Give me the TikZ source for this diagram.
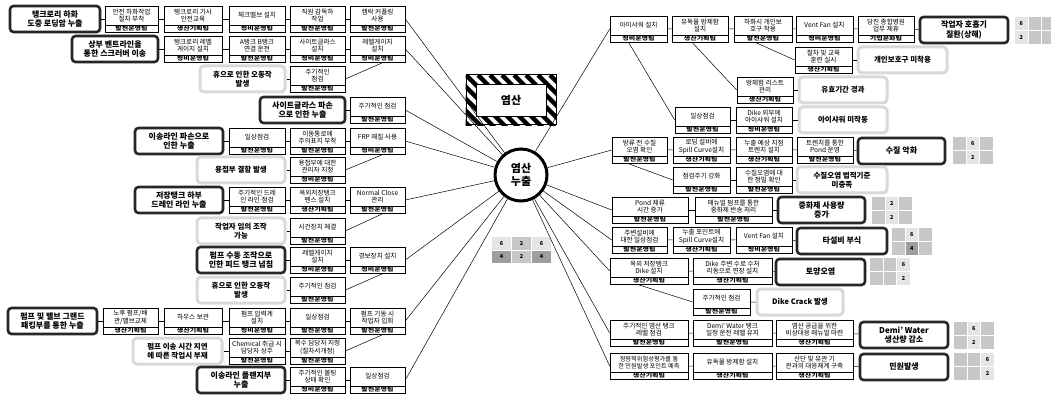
\documentclass[tikz,border=0pt]{standalone}
\usepackage{fontspec}
\setmainfont{Noto Sans CJK KR}
\tikzset{
 act/.style={draw, line width=0.6pt, minimum height=26pt, inner sep=0pt, fill=white},
 actt/.style={font=\fontsize{6.6}{7.6}\selectfont, align=center, inner sep=0pt},
 team/.style={font=\fontsize{5.4}{5.5}\selectfont\bfseries, inner sep=0pt},
 thk/.style={draw=black!85, line width=2.6pt, rounded corners=3.5pt, fill=white, minimum height=26pt, align=center, font=\fontsize{8}{9.8}\selectfont\bfseries, inner sep=0pt},
 gry/.style={draw=black!15, line width=3pt, rounded corners=4pt, fill=white, minimum height=26pt, align=center, font=\fontsize{7.5}{9.5}\selectfont\bfseries, inner sep=0pt},
 conn/.style={line width=0.5pt},
 gcell/.style={fill=black!22},
 lcell/.style={fill=black!10},
 dcell/.style={fill=black!38},
 num/.style={font=\fontsize{5.5}{6}\selectfont\bfseries, inner sep=0pt},
}
\newcommand\actbox[6]{%
 \node[act, minimum width=\dimexpr #3pt-#2pt\relax] (#1) at ({(#2+#3)/2},#4) {};
 \node[actt] at ([yshift=3.5pt]#1.center) {#5};
 \draw[line width=0.5pt] ([yshift=7pt]#1.south west) -- ([yshift=7pt]#1.south east);
 \node[team] at ([yshift=3.4pt]#1.south) {\scalebox{1.3}[0.95]{#6}};
}
\newcommand\thkbox[5]{\node[thk, minimum width=\dimexpr #3pt-#2pt\relax] (#1) at ({(#2+#3)/2},#4) {#5};}
\newcommand\grybox[5]{\node[gry, minimum width=\dimexpr #3pt-#2pt\relax] (#1) at ({(#2+#3)/2},#4) {#5};}
% riskgrid{x}{y}{col}{top}{bot}{botstyle}
\newcommand\riskgrid[6]{%
 \foreach \c in {0,1,2}{\foreach \r in {0,1}{\fill[gcell] ({#1+\c*13.6},{#2+\r*14}) rectangle ++(12.6,13);}}
 \fill[lcell] ({#1+#3*13.6},#2) rectangle ++(12.6,13);
 \fill[#6] ({#1+#3*13.6},{#2+14}) rectangle ++(12.6,13);
 \node[num] at ({#1+#3*13.6+6.3},{#2+6.5}) {#4};
 \node[num] at ({#1+#3*13.6+6.3},{#2+20.5}) {#5};
}
\begin{document}
\begin{tikzpicture}[x=1pt,y=-1pt]
\useasboundingbox (0,0) rectangle (1051,395);
% ---------- center ----------
\node[draw, line width=1pt, minimum width=90pt, minimum height=50pt, inner sep=0pt] (hazo) at (511,100) {};
\begin{scope}
 \clip (hazo.south west) rectangle (hazo.north east);
 \foreach \i in {-60,-48,...,100} \draw[line width=4.5pt] ({466+\i},75) -- ++(55,55);
\end{scope}
\node[draw, line width=0.8pt, fill=white, minimum width=70pt, minimum height=32pt, font=\fontsize{11}{13}\selectfont\bfseries] (haz) at (511,100) {염산};
\node[circle, draw, line width=3pt, fill=white, minimum size=52pt, inner sep=0pt, align=center, font=\fontsize{11}{13.5}\selectfont\bfseries] (C) at (521,175) {염산\\누출};
\foreach \c/\t/\b/\ts/\bs in {0/6/4/lcell/dcell,1/2/2/gcell/gcell,2/6/4/lcell/dcell}{
 \fill[\ts] ({492+\c*20},237) rectangle ++(19,12.5);
 \fill[\bs] ({492+\c*20},250.5) rectangle ++(19,12.5);
 \node[num] at ({501.5+\c*20},243.2) {\t};
 \node[num] at ({501.5+\c*20},256.7) {\b};
}
% ---------- left ----------
\thkbox{T1}{10}{100}{19}{탱크로리 하화\\도중 로딩암 누출}
\actbox{R1a}{105}{158}{19}{안전 하화작업\\절차 부착}{발전운영팀}
\actbox{R1b}{164}{222}{19}{탱크로리 기사\\안전교육}{생산기획팀}
\actbox{R1c}{229}{285}{19}{체크밸브 설치}{정비운영팀}
\actbox{R1d}{290}{345}{19}{직원 감독하\\작업}{발전운영팀}
\actbox{R1e}{350}{405}{19}{캠락 커플링\\사용}{발전운영팀}
\thkbox{T2}{72}{158}{49}{상부 벤트라인을\\통한 스크러버 이송}
\actbox{R2a}{164}{222}{49}{탱크로리 레벨\\게이지 설치}{정비운영팀}
\actbox{R2b}{229}{285}{49}{A탱크 B탱크\\연결 운전}{발전운영팀}
\actbox{R2c}{290}{345}{49}{사이트글라스\\설치}{정비운영팀}
\actbox{R2d}{350}{405}{49}{레벨게이지\\설치}{정비운영팀}
\grybox{G3}{200}{285}{79}{휴으로 인한 오동작\\발생}
\actbox{R3a}{290}{345}{79}{주기적인\\점검}{발전운영팀}
\thkbox{T4}{260}{345}{110}{사이트글라스 파손\\으로 인한 누출}
\actbox{R4a}{350}{405}{110}{주기적인 점검}{발전운영팀}
\thkbox{T5}{135}{223}{141}{이송라인 파손으로\\인한 누출}
\actbox{R5a}{229}{285}{141}{일상점검}{발전운영팀}
\actbox{R5b}{290}{345}{141}{이동통로에\\주의표지 부착}{발전운영팀}
\actbox{R5c}{350}{405}{141}{FRP 재질 사용}{정비운영팀}
\grybox{G6}{197}{285}{170}{용접부 결함 발생}
\actbox{R6a}{290}{345}{170}{용접부에 대한\\관리자 지정}{정비운영팀}
\thkbox{T7}{135}{223}{200}{저장탱크 하부\\드레인 라인 누출}
\actbox{R7a}{229}{285}{200}{주기적인 드레\\인 라인 점검}{발전운영팀}
\actbox{R7b}{290}{345}{200}{옥외저장탱크\\펜스 설치}{생산기획팀}
\actbox{R7c}{350}{405}{200}{Normal Close\\관리}{발전운영팀}
\grybox{G8}{197}{285}{231}{작업자 임의 조작\\가능}
\actbox{R8a}{290}{345}{231}{시건장치 체결}{발전운영팀}
\thkbox{T9}{197}{285}{260}{펌프 수동 조작으로\\인한 피드 탱크 넘침}
\actbox{R9a}{290}{345}{260}{레벨게이지\\설치}{정비운영팀}
\actbox{R9b}{350}{405}{260}{경보장치 설치}{정비운영팀}
\grybox{G10}{197}{285}{290}{휴으로 인한 오동작\\발생}
\actbox{R10a}{290}{345}{290}{주기적인 점검}{발전운영팀}
\thkbox{T11}{8}{97}{321}{펌프 및 밸브 그랜드\\패킹부를 통한 누출}
\actbox{R11a}{103}{158}{321}{노후 펌프/배\\관/밸브교체}{생산기획팀}
\actbox{R11b}{164}{222}{321}{하우스 보관}{생산기획팀}
\actbox{R11c}{229}{285}{321}{펌프 압력계\\설치}{정비운영팀}
\actbox{R11d}{290}{345}{321}{일상점검}{발전운영팀}
\actbox{R11e}{350}{405}{321}{펌프 기동 시\\작업자 입회}{발전운영팀}
\grybox{G12}{133}{222}{351}{펌프 이송 시간 지연\\에 따른 작업시 부재}
\actbox{R12a}{229}{285}{351}{Chemical 취급 시\\담당자 상주}{발전운영팀}
\actbox{R12b}{290}{345}{351}{복수 담당자 지정\\(절차서개정)}{발전운영팀}
\thkbox{T13}{197}{285}{380}{이송라인 플랜지부\\누출}
\actbox{R13a}{290}{345}{380}{주기적인 볼팅\\상태 확인}{정비운영팀}
\actbox{R13b}{350}{405}{380}{일상점검}{발전운영팀}
% left row connectors
\draw[conn] (T1)--(R1a) (R1a)--(R1b) (R1b)--(R1c) (R1c)--(R1d) (R1d)--(R1e);
\draw[conn] (T2)--(R2a) (R2a)--(R2b) (R2b)--(R2c) (R2c)--(R2d);
\draw[conn] (G3)--(R3a) (T4)--(R4a);
\draw[conn] (T5)--(R5a) (R5a)--(R5b) (R5b)--(R5c);
\draw[conn] (G6)--(R6a);
\draw[conn] (T7)--(R7a) (R7a)--(R7b) (R7b)--(R7c);
\draw[conn] (G8)--(R8a);
\draw[conn] (T9)--(R9a) (R9a)--(R9b);
\draw[conn] (G10)--(R10a);
\draw[conn] (T11)--(R11a) (R11a)--(R11b) (R11b)--(R11c) (R11c)--(R11d) (R11d)--(R11e);
\draw[conn] (G12)--(R12a) (R12a)--(R12b);
\draw[conn] (T13)--(R13a) (R13a)--(R13b);
\draw[conn] (R3a.east)--([xshift=6pt]R2d.south);
\draw[conn] (R6a.east)--([xshift=6pt]R5c.south);
\draw[conn] (R8a.east)--([xshift=6pt]R7c.south);
\draw[conn] (R10a.east)--([xshift=6pt]R9b.south);
\draw[conn] (R12b.east)--([xshift=6pt]R11e.south);
\foreach \n in {R1e,R2d,R4a,R5c,R7c,R9b,R11e,R13b} \draw[conn] (\n.east)--(C);
% ---------- right ----------
\actbox{RAa}{610}{667}{29}{아이샤워 설치}{정비운영팀}
\actbox{RAb}{672}{728}{29}{유독물 방제함\\설치}{생산기획팀}
\actbox{RAc}{734}{792}{29}{하화시 개인보\\호구 착용}{발전운영팀}
\actbox{RAd}{796}{853}{29}{Vent Fan 설치}{정비운영팀}
\actbox{RAe}{858}{914}{29}{당진 종합병원\\업무 제휴}{기업문화팀}
\thkbox{TA}{920}{1008}{30}{작업자 호흡기\\질환(상해)}
\riskgrid{1015}{17}{0}{6}{2}{lcell}
\actbox{RA2a}{795}{852}{60}{절차 및 교육\\훈련 실시}{생산기획팀}
\grybox{GA2}{858}{947}{60}{개인보호구 미착용}
\actbox{RA3a}{737}{793}{90}{방제함 리스트\\관리}{생산기획팀}
\grybox{GA3}{799}{887}{90}{유효기간 경과}
\actbox{RA4a}{675}{730}{120}{일상점검}{발전운영팀}
\actbox{RA4b}{736}{792}{120}{Dike 외부에\\아이샤워 설치}{정비운영팀}
\grybox{GA4}{799}{887}{120}{아이샤워 미작동}
\actbox{RBa}{612}{667}{150}{방류 전 수질\\오염 확인}{발전운영팀}
\actbox{RBb}{673}{730}{150}{로딩 설비에\\Spill Curve설치}{생산기획팀}
\actbox{RBc}{736}{792}{150}{누출 예상 지점\\트렌치 설치}{생산기획팀}
\actbox{RBd}{797}{853}{150}{트렌치를 통한\\Pond 운영}{발전운영팀}
\thkbox{TB}{858}{945}{151}{수질 악화}
\riskgrid{953}{137}{1}{6}{2}{lcell}
\actbox{RB2a}{673}{730}{180}{점검주기 강화}{발전운영팀}
\actbox{RB2b}{736}{792}{180}{수질오염에 대\\한 정밀 확인}{발전운영팀}
\grybox{GB2}{797}{887}{180}{수질오염 법적기준\\미충족}
\actbox{RCa}{612}{688}{210}{Pond 체류\\시간 증가}{발전운영팀}
\actbox{RCb}{695}{772}{210}{매뉴얼 펌프를 통한\\중화제 반송 처리}{발전운영팀}
\thkbox{TC}{778}{865}{210}{중화제 사용량\\증가}
\riskgrid{872}{197}{1}{2}{2}{lcell}
\actbox{RDa}{612}{667}{240}{주변설비에\\대한 일상점검}{발전운영팀}
\actbox{RDb}{673}{730}{240}{누출 포인트에\\Spill Curve설치}{생산기획팀}
\actbox{RDc}{736}{792}{240}{Vent Fan 설치}{정비운영팀}
\thkbox{TD}{797}{887}{241}{타설비 부식}
\riskgrid{892}{228}{1}{6}{4}{dcell}
\actbox{REa}{610}{688}{271}{옥외 저장탱크\\Dike 설치}{생산기획팀}
\actbox{REb}{693}{772}{271}{Dike 주변 수로 수처\\리동으로 연장 설치}{생산기획팀}
\thkbox{TE}{776}{865}{272}{토양오염}
\riskgrid{870}{258}{2}{6}{2}{lcell}
\actbox{RE2a}{693}{750}{302}{주기적인 점검}{발전운영팀}
\grybox{GE2}{757}{843}{302}{Dike Crack 발생}
\actbox{RFa}{610}{688}{333}{주기적인 염산 탱크\\레벨 점검}{발전운영팀}
\actbox{RFb}{693}{772}{333}{Demi' Water 탱크\\일정 운전 레벨 유지}{발전운영팀}
\actbox{RFc}{776}{853}{333}{염산 공급을 위한\\비상대응 매뉴얼 마련}{생산기획팀}
\thkbox{TF}{860}{948}{335}{Demi' Water\\생산량 감소}
\riskgrid{954}{322}{1}{6}{2}{lcell}
\actbox{RGa}{610}{688}{366}{{\fontsize{6.2}{7.6}\selectfont 정량적위험성평가를 통}\\{\fontsize{6.2}{7.6}\selectfont 한 민원발생 포인트 예측}}{생산기획팀}
\actbox{RGb}{693}{772}{366}{유독물 방제함 설치}{생산기획팀}
\actbox{RGc}{776}{853}{366}{산단 및 유관 기\\관과의 대응체계 구축}{생산기획팀}
\thkbox{TG}{860}{948}{367}{민원발생}
\riskgrid{954}{353}{2}{6}{2}{lcell}
% right row connectors
\draw[conn] (RAa)--(RAb) (RAb)--(RAc) (RAc)--(RAd) (RAd)--(RAe) (RAe)--(TA);
\draw[conn] (RA2a)--(GA2) (RA3a)--(GA3) (RA4a)--(RA4b) (RA4b)--(GA4);
\draw[conn] (RBa)--(RBb) (RBb)--(RBc) (RBc)--(RBd) (RBd)--(TB);
\draw[conn] (RB2a)--(RB2b) (RB2b)--(GB2);
\draw[conn] (RCa)--(RCb) (RCb)--(TC);
\draw[conn] (RDa)--(RDb) (RDb)--(RDc) (RDc)--(TD);
\draw[conn] (REa)--(REb) (REb)--(TE) (RE2a)--(GE2);
\draw[conn] (RFa)--(RFb) (RFb)--(RFc) (RFc)--(TF);
\draw[conn] (RGa)--(RGb) (RGb)--(RGc) (RGc)--(TG);
\draw[conn] ([xshift=-8pt]RAc.south)--(RA2a.west);
\draw[conn] ([xshift=-8pt]RAb.south)--(RA3a.west);
\draw[conn] ([xshift=-10pt]RAa.south)--(RA4a.west);
\draw[conn] ([xshift=-12pt]RBa.south)--(RB2a.west);
\draw[conn] ([xshift=-12pt]REa.south)--(RE2a.west);
\foreach \n in {RAa,RBa,RCa,RDa,REa,RFa,RGa} \draw[conn] (C)--(\n.west);
\end{tikzpicture}
\end{document}
